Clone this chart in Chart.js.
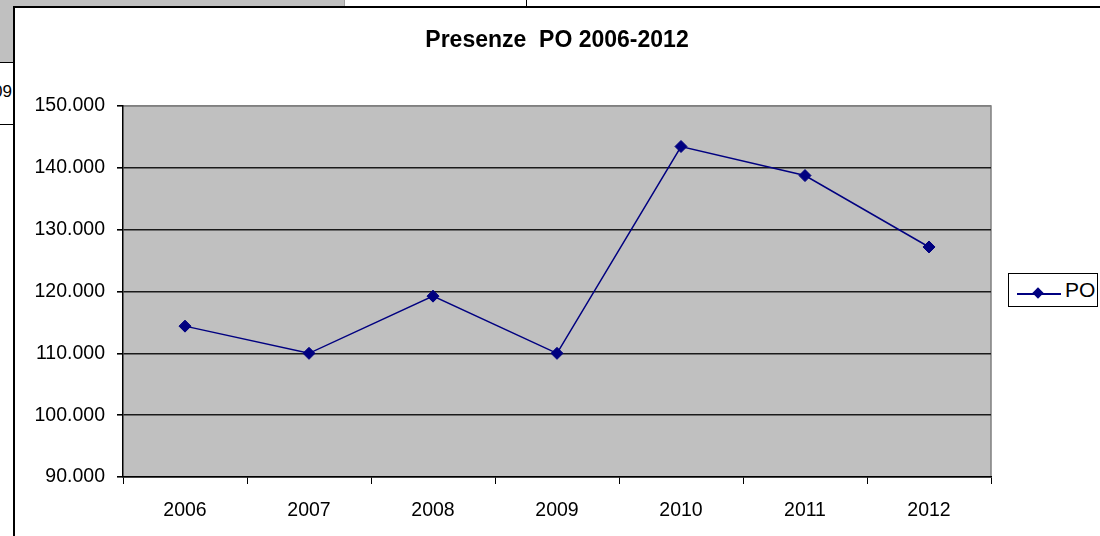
<!DOCTYPE html>
<html>
<head>
<meta charset="utf-8">
<script src="https://cdn.jsdelivr.net/npm/chart.js@4.4.1/dist/chart.umd.min.js"></script>
<style>
  body { margin: 0; background: #fff; font-family: Arial, "Liberation Sans", sans-serif; }
  #page { position: relative; width: 1100px; height: 536px; overflow: hidden; }
  .sheet-gray { position: absolute; left: 0; top: 0; width: 344px; height: 62px; background: #c0c0c0; border-right: 1px solid #a0a0a0; }
  .sheet-line { position: absolute; background: #000; }
  .sheet-cell { position: absolute; left: -40px; top: 82px; width: 52px; text-align: right; font-size: 17px; color: #000; }
  .frame { position: absolute; left: 13px; top: 6px; width: 1200px; height: 600px; border-left: 2px solid #000; border-top: 2px solid #000; background: #fff; }
  #chart { position: absolute; left: 0; top: 0; }
  .legend { position: absolute; left: 1008px; top: 273px; width: 88px; height: 32px; border: 1px solid #000; background: #fff; }
  .legend .ln { position: absolute; left: 8px; top: 19px; width: 44px; height: 1.5px; background: #000080; }
  .legend .dm { position: absolute; left: 25px; top: 15px; width: 8px; height: 8px; background: #000080; transform: rotate(45deg); }
  .legend .tx { position: absolute; left: 56px; top: 4px; font-size: 21px; color: #000; }
</style>
</head>
<body>
<div id="page">
  <div class="sheet-gray"></div>
  <div class="sheet-line" style="left:0;top:62px;width:14px;height:1px;"></div>
  <div class="sheet-line" style="left:0;top:124px;width:14px;height:1px;"></div>
  <div class="sheet-cell">2009</div>
  <div class="sheet-line" style="left:526px;top:0;width:1px;height:7px;"></div>
  <div class="frame"></div>
  <canvas id="chart" width="1100" height="536"></canvas>
  <div class="legend"><span class="ln"></span><span class="dm"></span><span class="tx">PO</span></div>
</div>
<script>
const anni = ["2006", "2007", "2008", "2009", "2010", "2011", "2012"];
const presenzePO = [114400, 110000, 119250, 110000, 143450, 138750, 127200];
const yMin = 90000;
const yMax = 150000;
const yStep = 10000;

// sfondo grigio dell'area del grafico con bordo grigio sopra e a destra
const plotBg = {
  id: "plotBg",
  beforeDraw(chart) {
    const { ctx, chartArea: a } = chart;
    ctx.save();
    ctx.fillStyle = "#c0c0c0";
    ctx.fillRect(a.left, a.top, a.right - a.left, a.bottom - a.top);
    ctx.strokeStyle = "#808080";
    ctx.lineWidth = 1.5;
    ctx.beginPath();
    ctx.moveTo(a.left, a.top);
    ctx.lineTo(a.right, a.top);
    ctx.lineTo(a.right, a.bottom);
    ctx.stroke();
    ctx.restore();
  }
};

function formatIt(v) {
  return String(v).replace(/\B(?=(\d{3})+(?!\d))/g, ".");
}

new Chart(document.getElementById("chart"), {
  type: "line",
  data: {
    labels: anni,
    datasets: [{
      label: "PO",
      data: presenzePO,
      borderColor: "#000080",
      backgroundColor: "#000080",
      borderWidth: 1.5,
      tension: 0,
      pointStyle: "rectRot",
      pointRadius: 6,
      pointBackgroundColor: "#000080",
      pointBorderColor: "#000080",
      pointBorderWidth: 1
    }]
  },
  options: {
    responsive: false,
    animation: false,
    layout: { padding: { left: 0, right: 109, top: 0, bottom: 0 } },
    plugins: {
      legend: { display: false },
      tooltip: { enabled: false },
      title: {
        display: true,
        text: "Presenze  PO 2006-2012",
        fullSize: false,
        color: "#000",
        font: { family: "Arial, 'Liberation Sans', sans-serif", size: 23, weight: "bold" },
        padding: { top: 27, bottom: 51.4 }
      }
    },
    scales: {
      x: {
        offset: true,
        afterFit: (s) => { s.height = 59; },
        grid: { offset: true, drawOnChartArea: false, tickLength: 7, color: "#000", tickColor: "#000", lineWidth: 1 },
        border: { color: "#000", width: 1.5 },
        ticks: { color: "#000", padding: 15, font: { family: "Arial, 'Liberation Sans', sans-serif", size: 19.5 } }
      },
      y: {
        min: yMin,
        max: yMax,
        afterFit: (s) => { s.width = 123; },
        grid: {
          tickLength: 6,
          color: (c) => (c.tick && c.tick.value === yMax ? "#808080" : "#1a1a1a"),
          tickColor: "#000",
          lineWidth: 1.6
        },
        border: { color: "#000", width: 1.5 },
        ticks: {
          stepSize: yStep,
          color: "#000",
          padding: 12,
          font: { family: "Arial, 'Liberation Sans', sans-serif", size: 19.5 },
          callback: (v) => formatIt(v)
        }
      }
    }
  },
  plugins: [plotBg]
});
</script>
</body>
</html>
